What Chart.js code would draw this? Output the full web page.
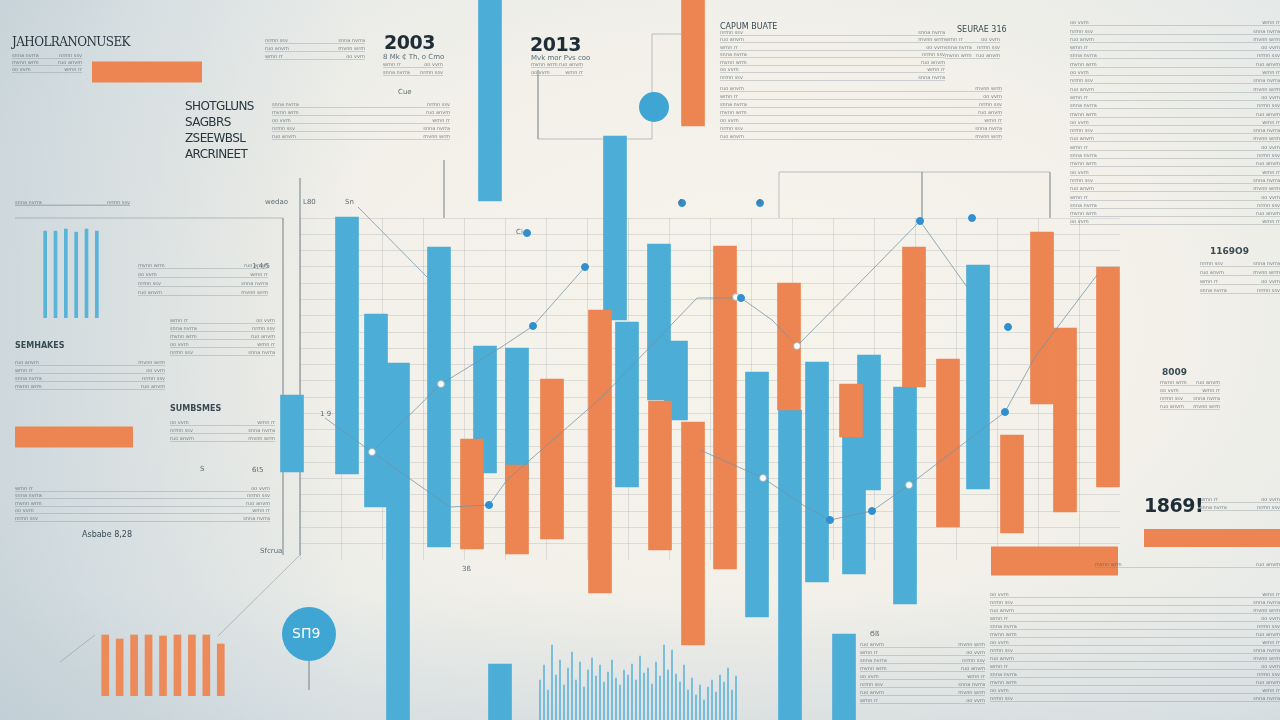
<!DOCTYPE html>
<html>
<head>
<meta charset="utf-8">
<script src="https://cdn.jsdelivr.net/npm/chart.js@4.4.1/dist/chart.umd.min.js"></script>
<style>
  html, body { margin: 0; padding: 0; }
  body {
    width: 1280px; height: 720px; overflow: hidden; position: relative;
    font-family: "DejaVu Sans", sans-serif;
    background:
      linear-gradient(90deg, rgba(188,203,211,0.55) 0%, rgba(188,203,211,0) 28%),
      linear-gradient(0deg, rgba(190,204,212,0.35) 0%, rgba(190,204,212,0) 18%),
      radial-gradient(ellipse 78% 90% at 58% 45%, #f7f4ec 0%, #f2f0e9 45%, #e3e8e8 78%, #ccd6db 100%);
  }
  canvas { position: absolute; }
  .t { position: absolute; color: #27363f; white-space: nowrap; line-height: 1; }
  .big { font-weight: bold; font-size: 19px; letter-spacing: -0.5px; color: #1e2d38; }
  .head { font-family: "DejaVu Serif", serif; font-size: 12px; letter-spacing: -0.6px; }
  .small { font-size: 8px; color: #3a4a52; }
  .tiny { font-size: 7px; color: #5b6d76; }
  .row {
    position: absolute; box-sizing: border-box;
    border-bottom: 1px solid rgba(120,135,142,0.32);
    font-size: 5px; color: rgba(80,96,104,0.75);
    display: flex; justify-content: space-between; align-items: flex-end;
  }
</style>
</head>
<body>
<canvas id="grid" width="820" height="342" style="left:300px;top:218px"></canvas>
<canvas id="main" width="1280" height="720" style="left:0;top:0"></canvas>
<canvas id="miniBlue" width="62" height="92" style="left:40px;top:226px"></canvas>
<canvas id="miniOrange" width="130" height="66" style="left:98px;top:630px"></canvas>
<canvas id="spikes" width="200" height="80" style="left:538px;top:640px"></canvas>
<div id="panels"></div>

<div class="t head" style="left:12px;top:36px">JAHOLRANONUSEK</div>
<div class="t big" style="left:384px;top:33px">2003</div>
<div class="t tiny" style="left:383px;top:54px">8 Mk ₵ Th, o Cmo</div>
<div class="t tiny" style="left:398px;top:89px">Cue</div>
<div class="t big" style="left:530px;top:35px">2013</div>
<div class="t tiny" style="left:531px;top:55px">Mvk mor  Pvs coo</div>
<div class="t head" style="left:185px;top:98px;line-height:16px;font-family:'DejaVu Sans';font-size:12px">SHOTGLUNS<br>SAGBRS<br>ZSEEWBSL<br>ARCRINEET</div>
<div class="t small" style="left:720px;top:23px">CAPUM BUATE</div>
<div class="t small" style="left:957px;top:26px">SEURAE 316</div>
<div class="t small" style="left:1210px;top:247px;font-weight:bold;font-size:9px">1169O9</div>
<div class="t small" style="left:1162px;top:368px;font-weight:bold;font-size:9px">8009</div>
<div class="t big" style="left:1144px;top:496px">1869!</div>
<div class="t small" style="left:15px;top:342px;font-weight:bold">SEMHAKES</div>
<div class="t small" style="left:170px;top:405px;font-weight:bold">SUMBSMES</div>
<div class="t small" style="left:82px;top:531px">Asbabe 8,28</div>
<div class="t tiny" style="left:265px;top:199px">wedao</div>
<div class="t tiny" style="left:303px;top:199px">L80</div>
<div class="t tiny" style="left:345px;top:199px">Sn</div>
<div class="t tiny" style="left:320px;top:411px">1 9</div>
<div class="t tiny" style="left:252px;top:263px">1,4/5</div>
<div class="t tiny" style="left:200px;top:466px">S</div>
<div class="t tiny" style="left:252px;top:467px">6Ɩ5</div>
<div class="t tiny" style="left:260px;top:548px">Sfcrua</div>
<div class="t tiny" style="left:462px;top:566px">3ß</div>
<div class="t tiny" style="left:516px;top:229px">Ci</div>
<div class="t tiny" style="left:678px;top:199px">4</div>
<div class="t tiny" style="left:757px;top:199px">4</div>
<div class="t tiny" style="left:870px;top:631px">Ϭß</div>
<div class="t" style="left:292px;top:626px;color:#fff;font-size:14px">SΠ9</div>

<script>
// ---- data (x in tenths of px across, y in tenths of px up) ----
const blueX    = [29.2, 34.7, 37.6, 39.8, 43.9, 48.5, 49.0, 50.0, 51.7, 61.5, 62.7, 65.9, 67.6, 75.7, 79.0, 81.7, 84.4, 85.4, 86.9, 90.5, 97.8];
const blueLow  = [24.8, 24.6, 21.3, 0,    17.3, 24.7, 51.9, 0,    24.0, 40.0, 23.3, 32.0, 30.0, 10.3, 0,    13.8, 0,    14.6, 23.0, 11.6, 23.1];
const blueHigh = [32.5, 50.3, 40.6, 35.7, 47.3, 37.4, 72,   5.6,  37.2, 58.4, 39.8, 47.6, 37.9, 34.8, 31.0, 35.8, 8.6,  28.3, 36.5, 33.3, 45.5];

const orangeX    = [47.2, 51.7, 55.2, 60.0, 66.0, 69.3, 69.3, 72.5, 78.9, 85.1, 91.4, 94.8, 101.2, 104.2, 106.5, 110.8];
const orangeLow  = [17.1, 16.6, 18.1, 12.7, 17.0, 59.4, 7.5,  15.1, 31.0, 28.3, 33.3, 19.3, 18.7,  31.6,  20.8,  23.3];
const orangeHigh = [28.1, 25.5, 34.1, 41.0, 31.9, 72,   29.8, 47.4, 43.7, 33.6, 47.3, 36.1, 28.5,  48.8,  39.2,  45.3];

const lineAX = [32.5, 37.2, 44.1, 50.3, 53.3, 58.5];
const lineAY = [30.2, 26.8, 33.6, 37.4, 39.4, 45.3];
const lineBX = [35.8, 42.7];
const lineBY = [51.3, 44.3];
const lineCX = [37.2, 45.0, 48.9, 50.7, 60.2, 69.7, 74.1, 77.2, 79.7, 87.2, 92.0, 96.7];
const lineCY = [26.8, 21.3, 21.5, 24.0, 32.3, 42.2, 42.2, 40.0, 37.4, 45.0, 49.9, 43.3];
const lineEX = [70.0, 76.3, 80.3, 83.0, 87.2, 90.9, 100.5, 103.5, 109.7];
const lineEY = [27.0, 24.2, 21.5, 20.0, 20.9, 23.5, 30.8, 36.3, 44.5];

const dotX = [53.3, 58.5, 92.0, 74.1, 87.2, 83.0, 100.5, 48.9, 97.2, 68.2, 76.0, 52.7, 100.8];
const dotY = [39.4, 45.3, 49.9, 42.2, 20.9, 20.0, 30.8,  21.5, 50.2, 51.7, 51.7, 48.7, 39.3];
const whiteX = [44.1, 37.2, 73.6, 79.7, 76.3, 90.9];
const whiteY = [33.6, 26.8, 42.3, 37.4, 24.2, 23.5];

const badgeX = [65.4, 30.9];
const badgeY = [61.3, 8.6];
const badgeR = [15, 27];

// horizontal orange bands: from, to, level, thickness
const bandFrom = [9.2, 1.5, 99.1, 114.4];
const bandTo   = [20.2, 13.3, 111.8, 128];
const bandY    = [64.8, 28.3, 15.9, 18.2];
const bandH    = [21, 21, 29, 18];

// frame segments, null breaks
const frameX = [30.0, 30.0, null, 44.4, 44.4, null, 53.8, 53.8, 65.2, 65.2, 68.1, null, 77.9, 77.9, 105.0, 105.0, null, 92.2, 92.2, null, 1.5, 28.3, 28.3, null, 1.5, 13.0, null, 21.8, 30.0, null, 6.0, 9.5, null, 30.9, 30.9];
const frameY = [54.2, 16.5, null, 56.0, 50.2, null, 65.0, 58.1, 58.1, 68.6, 68.6, null, 50.2, 54.8, 54.8, 50.2, null, 54.8, 50.2, null, 50.2, 50.2, 16.5, null, 51.5, 51.5, null, 8.4, 16.5, null, 5.8, 8.5, null, 5.9, 3.0];

const miniBlueVals   = [85, 85, 87, 84, 87, 85];
const miniOrangeVals = [61, 57, 61, 61, 60, 61, 61, 61, 52];
const spikeVals = [40, 55, 30, 75, 45, 60, 35, 52, 68, 40, 58, 33, 50, 62, 44, 55, 38, 48, 60, 42, 35, 50, 45, 56, 40, 64, 47, 52, 36, 58, 44, 75, 50, 70, 46, 38, 55, 30, 42, 25, 35, 20, 33, 40, 28, 45, 38, 52, 30, 44];

const BLUE = '#4cadd7';
const ORANGE = '#ec8552';
const LINE = 'rgba(112,146,166,0.75)';

const pts = (xs, ys) => xs.map((x, i) => ({ x: x, y: ys[i] }));
const bars = (xs, lo, hi) => xs.map((x, i) => ({ x: x, y: [lo[i], hi[i]] }));

const lineDs = (xs, ys) => ({
  type: 'line', data: pts(xs, ys), borderColor: LINE, borderWidth: 1,
  pointRadius: 0, tension: 0, order: 0
});

const datasets = [
  { type: 'bar', data: bars(blueX, blueLow, blueHigh), backgroundColor: BLUE,
    barThickness: 23, grouped: false, order: 3 },
  { type: 'bar', data: bars(orangeX, orangeLow, orangeHigh), backgroundColor: ORANGE,
    barThickness: 23, grouped: false, order: 2 },
  { type: 'line', data: pts(frameX, frameY), borderColor: 'rgba(140,150,155,0.55)',
    borderWidth: 1, pointRadius: 0, spanGaps: false, order: 5 },
  lineDs(lineAX, lineAY), lineDs(lineBX, lineBY), lineDs(lineCX, lineCY), lineDs(lineEX, lineEY),
  { type: 'scatter', data: pts(dotX, dotY), backgroundColor: '#2f8fcf', borderColor: '#2f8fcf',
    pointRadius: 3.5, order: -1 },
  { type: 'scatter', data: pts(whiteX, whiteY), backgroundColor: '#ffffff', borderColor: 'rgba(150,170,180,0.8)',
    borderWidth: 1, pointRadius: 3.5, order: -1 },
  { type: 'scatter', data: pts(badgeX, badgeY), backgroundColor: '#3fa6d3', borderWidth: 0,
    pointRadius: badgeR, order: 1 }
];
bandY.forEach((y, i) => {
  datasets.push({ type: 'line', data: [{ x: bandFrom[i], y: y }, { x: bandTo[i], y: y }],
    borderColor: ORANGE, borderWidth: bandH[i], borderCapStyle: 'butt', pointRadius: 0, order: 4 });
});

const noPlug = { legend: { display: false }, tooltip: { enabled: false } };

new Chart(document.getElementById('main'), {
  type: 'bar',
  data: { datasets: datasets },
  options: {
    responsive: false, animation: false, plugins: noPlug,
    layout: { padding: 0, autoPadding: false },
    scales: {
      x: { type: 'linear', min: 0, max: 128, offset: false, display: false },
      y: { type: 'linear', min: 0, max: 72, display: false }
    }
  }
});

// faint grid behind the main chart
new Chart(document.getElementById('grid'), {
  type: 'line',
  data: { datasets: [] },
  options: {
    responsive: false, animation: false, plugins: noPlug, layout: { padding: 0, autoPadding: false },
    scales: {
      x: { type: 'linear', min: 0, max: 20, ticks: { display: false, stepSize: 1 }, border: { display: false },
           grid: { color: 'rgba(140,152,158,0.24)', drawTicks: false } },
      y: { type: 'linear', min: 0, max: 21, ticks: { display: false, stepSize: 1 }, border: { display: false },
           grid: { color: 'rgba(140,152,158,0.24)', drawTicks: false } }
    }
  }
});

function mini(id, vals, color, thick, ymax) {
  new Chart(document.getElementById(id), {
    type: 'bar',
    data: { labels: vals.map((v, i) => i), datasets: [{ data: vals, backgroundColor: color, barThickness: thick }] },
    options: {
      responsive: false, animation: false, plugins: noPlug, layout: { padding: 0, autoPadding: false },
      scales: { x: { display: false }, y: { display: false, min: 0, max: ymax } }
    }
  });
}
mini('miniBlue', miniBlueVals, '#5ab4da', 3, 90);
mini('miniOrange', miniOrangeVals, '#ec8a5a', 7, 66);
mini('spikes', spikeVals, 'rgba(76,173,215,0.85)', 1, 80);

// text rule panels
const words = ['snna nvrra', 'mvnn wrm', 'oo vvrn', 'nrmn ssv', 'ruo anvm', 'wmn rr'];
const panels = [
  [12, 52, 70, 3, 7], [265, 36, 100, 3, 8], [272, 100, 178, 5, 8], [383, 60, 60, 2, 8],
  [531, 60, 52, 2, 8], [720, 28, 225, 7, 7.5], [720, 84, 282, 7, 8], [945, 35, 55, 3, 8],
  [1070, 18, 210, 25, 8.3], [1200, 258, 80, 4, 9], [1160, 378, 60, 4, 8],
  [1200, 495, 80, 2, 8], [1095, 560, 185, 1, 8], [990, 590, 290, 14, 8], [860, 640, 125, 8, 8],
  [15, 200, 115, 1, 6], [138, 260, 130, 4, 9], [170, 316, 105, 5, 8], [15, 358, 150, 4, 8],
  [170, 418, 105, 3, 8], [15, 484, 255, 5, 7.5]
];
const host = document.getElementById('panels');
let k = 0;
panels.forEach(p => {
  for (let i = 0; i < p[3]; i++) {
    const r = document.createElement('div');
    r.className = 'row';
    r.style.left = p[0] + 'px';
    r.style.top = (p[1] + i * p[4]) + 'px';
    r.style.width = p[2] + 'px';
    r.style.height = p[4] + 'px';
    r.innerHTML = '<span>' + words[k % words.length] + '</span><span>' + words[(k + 3) % words.length] + '</span>';
    k++;
    host.appendChild(r);
  }
});
</script>
</body>
</html>
